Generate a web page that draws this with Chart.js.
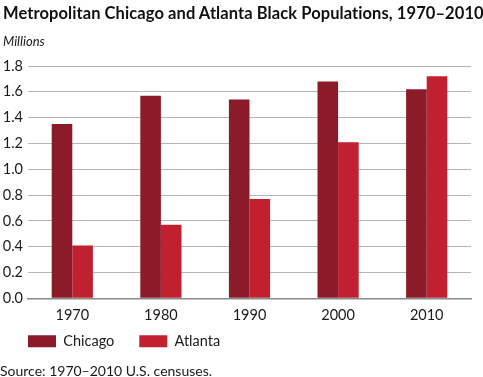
<!DOCTYPE html>
<html>
<head>
<meta charset="utf-8">
<script src="https://cdn.jsdelivr.net/npm/chart.js@4/dist/chart.umd.min.js"></script>
<style>
  html, body { margin: 0; padding: 0; background: #fff; }
  #wrap { position: relative; width: 483px; height: 377px; overflow: hidden; font-family: Lato, sans-serif; color: #1a1a1a; }
  #chart { position: absolute; left: 0; top: 0; }
  .txt { position: absolute; white-space: nowrap; }
  #title { left: 3px; top: 3px; font-size: 16.5px; letter-spacing: 0.08px; font-weight: 700; color: #111; line-height: 20px; }
  #unit { left: 3px; top: 33px; font-size: 13px; font-style: italic; line-height: 16px; }
  #source { left: 0px; top: 362px; font-size: 14px; line-height: 17px; }
</style>
</head>
<body>
<div id="wrap">
  <canvas id="chart" width="483" height="377"></canvas>
  <div class="txt" id="title">Metropolitan Chicago and Atlanta Black Populations, 1970–2010</div>
  <div class="txt" id="unit">Millions</div>
  <div class="txt" id="source">Source: 1970–2010 U.S. censuses.</div>
</div>
<script>
const categories = ['1970', '1980', '1990', '2000', '2010'];
const seriesNames = ['Chicago', 'Atlanta'];
const chicagoValues = [1.35, 1.57, 1.54, 1.68, 1.62];
const atlantaValues = [0.41, 0.57, 0.77, 1.21, 1.72];
const yTicks = [0.0, 0.2, 0.4, 0.6, 0.8, 1.0, 1.2, 1.4, 1.6, 1.8];

const FONT = 'Lato, sans-serif';

// Move the legend up into the empty space below the axis labels
const legendShift = {
  id: 'legendShift',
  afterLayout(chart) {
    const lg = chart.legend;
    if (lg) { lg.top -= 14; lg.bottom -= 14; }
  }
};

new Chart(document.getElementById('chart'), {
  type: 'bar',
  data: {
    labels: categories,
    datasets: [
      { label: seriesNames[0], data: chicagoValues, backgroundColor: '#8c1b29', borderWidth: 0 },
      { label: seriesNames[1], data: atlantaValues, backgroundColor: '#c1202f', borderWidth: 0 }
    ]
  },
  plugins: [legendShift],
  options: {
    responsive: false,
    animation: false,
    layout: { padding: { left: 3, right: 12, top: 66, bottom: 4.4 } },
    datasets: { bar: { categoryPercentage: 0.465, barPercentage: 1.0 } },
    scales: {
      x: {
        grid: { display: false, drawTicks: false },
        border: { display: true, color: '#8a8a8a', width: 1.5 },
        ticks: { padding: 8, color: '#1a1a1a', font: { family: FONT, size: 14.5 } },
        afterFit: (scale) => { scale.height = 24.8; }
      },
      y: {
        min: yTicks[0],
        max: yTicks[yTicks.length - 1],
        afterBuildTicks: (scale) => { scale.ticks = yTicks.map(v => ({ value: v })); },
        afterFit: (scale) => { scale.width = 25; },
        grid: {
          drawTicks: false,
          color: (ctx) => ctx.tick && ctx.tick.value === 0 ? '#8a8a8a' : '#b5b5b5',
          lineWidth: 1
        },
        border: { display: false },
        ticks: {
          padding: 5,
          color: '#1a1a1a',
          font: { family: FONT, size: 14.5 },
          callback: (v) => Number(v).toFixed(1)
        }
      }
    },
    plugins: {
      tooltip: { enabled: false },
      title: { display: false },
      legend: {
        display: true,
        position: 'bottom',
        align: 'start',
        labels: {
          boxWidth: 28,
          boxHeight: 12,
          padding: 25,
          color: '#1a1a1a',
          font: { family: FONT, size: 14.5 }
        }
      }
    }
  }
});
</script>
</body>
</html>
